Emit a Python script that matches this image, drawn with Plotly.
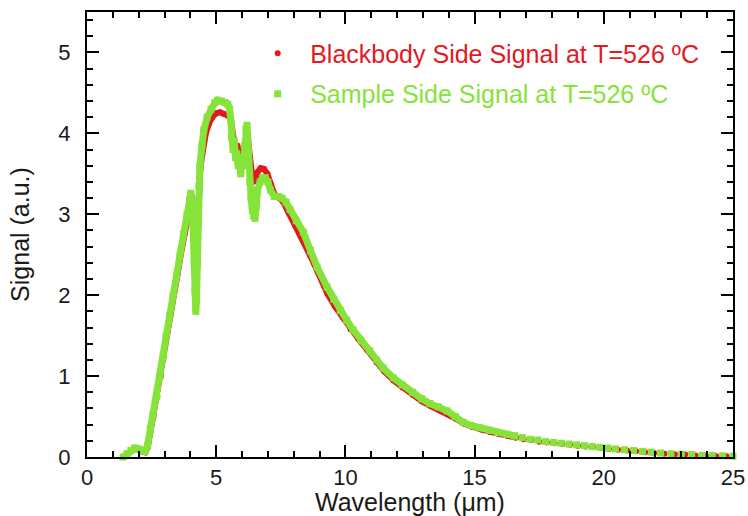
import plotly.graph_objects as go

# Blackbody-side spectrum (wavelength in um, signal in a.u.)
bb_wl = [1.40, 1.55, 1.70, 1.85, 2.00, 2.15, 2.25, 2.35, 2.45, 2.57, 2.72, 2.86, 2.98,
         3.10, 3.23, 3.36, 3.50, 3.63, 3.77, 3.91, 4.00, 4.06, 4.10, 4.14, 4.17, 4.20,
         4.23, 4.26, 4.29, 4.32, 4.36, 4.42, 4.50, 4.60, 4.72, 4.85, 5.00, 5.15, 5.30,
         5.45, 5.55, 5.62, 5.68, 5.75, 5.82, 5.90, 5.97, 6.03, 6.10, 6.18, 6.24, 6.30,
         6.36, 6.42, 6.50, 6.60, 6.72, 6.85, 6.98, 7.10, 7.25, 7.45, 7.60, 7.80, 8.05,
         8.35, 8.65, 8.95, 9.30, 9.60, 9.90, 10.20, 10.50, 10.85, 11.20, 11.50, 11.85,
         12.20, 12.60, 12.95, 13.30, 13.65, 14.00, 14.30, 14.60, 14.90, 15.25, 15.60,
         15.95, 16.30, 16.60,
         16.90, 17.20, 17.50, 17.80, 18.10, 18.40, 18.70, 19.00, 19.30, 19.60, 19.90,
         20.20, 20.55, 20.90, 21.25, 21.60, 21.95, 22.35, 22.75, 23.15, 23.55, 23.95,
         24.35, 24.75]
bb_sig = [0.00, 0.04, 0.07, 0.10, 0.09, 0.06, 0.06, 0.12, 0.30, 0.50, 0.75, 1.00, 1.25,
          1.50, 1.75, 2.00, 2.25, 2.50, 2.75, 3.00, 3.15, 3.22, 3.10, 2.85, 2.55, 2.30,
          2.25, 2.50, 2.85, 3.20, 3.45, 3.65, 3.85, 4.00, 4.12, 4.20, 4.25, 4.26, 4.24,
          4.22, 4.18, 4.05, 3.90, 3.80, 3.85, 3.72, 3.78, 3.68, 3.85, 3.98, 3.90, 3.70,
          3.50, 3.40, 3.42, 3.52, 3.57, 3.56, 3.50, 3.38, 3.25, 3.20, 3.15, 3.02, 2.86,
          2.70, 2.48, 2.27, 2.02, 1.86, 1.72, 1.58, 1.46, 1.32, 1.17, 1.06, 0.95,
          0.86, 0.77, 0.69, 0.63, 0.58, 0.53, 0.47, 0.41, 0.37, 0.34, 0.31,
          0.28, 0.26, 0.24,
          0.22, 0.21, 0.19, 0.18, 0.17, 0.16, 0.15, 0.14, 0.13, 0.12, 0.11,
          0.10, 0.09, 0.08, 0.07, 0.06, 0.05, 0.04, 0.035, 0.03, 0.02, 0.015,
          0.01, 0.01]

# Sample-side spectrum
sm_wl = [1.40, 1.55, 1.70, 1.85, 2.00, 2.15, 2.25, 2.35, 2.45, 2.55, 2.70, 2.83, 2.95,
         3.06, 3.20, 3.33, 3.47, 3.60, 3.73, 3.87, 3.97, 4.02, 4.08, 4.12, 4.15, 4.18,
         4.21, 4.24, 4.27, 4.30, 4.33, 4.37, 4.45, 4.52, 4.65, 4.80, 4.95, 5.05, 5.20,
         5.35, 5.45, 5.52, 5.57, 5.60, 5.65, 5.70, 5.75, 5.80, 5.85, 5.90, 5.95, 6.00,
         6.05, 6.10, 6.15, 6.19, 6.22, 6.25, 6.30, 6.35, 6.40, 6.45, 6.50, 6.55, 6.60,
         6.70, 6.80, 6.90, 7.00, 7.10, 7.25, 7.40, 7.55, 7.70, 7.86, 8.10, 8.37, 8.65,
         8.90, 9.29, 9.55, 9.80, 10.05, 10.30, 10.60, 10.95, 11.20, 11.46, 11.85, 12.20,
         12.60, 12.95, 13.27, 13.60, 13.93, 14.25, 14.55, 14.85, 15.20, 15.55, 15.90,
         16.25, 16.55,
         16.85, 17.15, 17.45, 17.75, 18.05, 18.35, 18.65, 18.95, 19.25, 19.55, 19.85,
         20.15, 20.45, 20.80, 21.15, 21.50, 21.85, 22.20, 22.60, 23.00, 23.40, 23.80,
         24.20, 24.60, 25.00]
sm_sig = [0.00, 0.04, 0.08, 0.11, 0.10, 0.07, 0.07, 0.15, 0.35, 0.52, 0.75, 1.00, 1.25,
          1.50, 1.75, 2.00, 2.25, 2.50, 2.75, 3.00, 3.18, 3.26, 3.10, 2.80, 2.40, 2.05,
          1.80, 1.95, 2.40, 2.90, 3.35, 3.60, 3.85, 4.04, 4.20, 4.30, 4.38, 4.41, 4.40,
          4.38, 4.36, 4.30, 4.15, 3.95, 3.80, 3.90, 3.70, 3.75, 3.60, 3.65, 3.50, 3.70,
          3.60, 3.85, 4.05, 4.10, 3.95, 3.70, 3.40, 3.20, 3.05, 2.98, 2.95, 3.10, 3.30,
          3.40, 3.45, 3.45, 3.40, 3.30, 3.22, 3.22, 3.20, 3.15, 3.06, 2.92, 2.78, 2.55,
          2.35, 2.10, 1.95, 1.81, 1.69, 1.57, 1.44, 1.31, 1.20, 1.10, 0.98, 0.89,
          0.80, 0.72, 0.66, 0.62, 0.57, 0.50, 0.43, 0.39, 0.36, 0.33, 0.30,
          0.28, 0.26,
          0.24, 0.22, 0.21, 0.19, 0.18, 0.17, 0.16, 0.15, 0.14, 0.13, 0.12,
          0.11, 0.10, 0.09, 0.08, 0.07, 0.06, 0.05, 0.04, 0.035, 0.03, 0.02,
          0.02, 0.015, 0.01]

x_ticks = [0, 5, 10, 15, 20, 25]
y_ticks = [0, 1, 2, 3, 4, 5]

RED = "#e2191e"
GREEN = "#86e33a"
FONT = "Liberation Sans, Arial, sans-serif"
TEXT = "#1a1a1a"
DENSE_LIMIT = 16.7  # beyond this the samples are spaced far enough to show apart


def add_series(fig, wl, sig, color, symbol, msize, lwidth, name):
    dense = [i for i, w in enumerate(wl) if w < DENSE_LIMIT]
    sparse = [i for i, w in enumerate(wl) if w >= DENSE_LIMIT - 0.4]
    fig.add_trace(go.Scatter(
        x=[wl[i] for i in dense], y=[sig[i] for i in dense],
        mode="lines+markers",
        line=dict(color=color, width=lwidth),
        marker=dict(color=color, symbol=symbol, size=msize),
        showlegend=False, legendgroup=name, cliponaxis=False,
        hoverinfo="x+y",
    ))
    fig.add_trace(go.Scatter(
        x=[wl[i] for i in sparse], y=[sig[i] for i in sparse],
        mode="markers",
        marker=dict(color=color, symbol=symbol, size=msize),
        name=f"\u2002<span style='color:{color}'>{name}</span>",
        legendgroup=name, cliponaxis=False,
        hoverinfo="x+y",
    ))


fig = go.Figure()
add_series(fig, bb_wl, bb_sig, RED, "circle", 6, 6,
           "Blackbody Side Signal at T=526 ºC")
add_series(fig, sm_wl, sm_sig, GREEN, "square", 7, 7,
           "Sample Side Signal at T=526 ºC")

axis_common = dict(
    showline=True, linecolor="black", linewidth=2, mirror="ticks",
    ticks="inside", ticklen=12, tickwidth=2, tickcolor="black",
    showgrid=False, zeroline=False, automargin=False,
    tickfont=dict(family=FONT, size=22, color=TEXT),
)

fig.update_layout(
    width=748, height=516,
    margin=dict(l=87, r=15, t=12, b=59),
    paper_bgcolor="white", plot_bgcolor="white",
    font=dict(family=FONT, size=22, color=TEXT),
    legend=dict(
        x=0.2642, y=0.9585, xanchor="left", yanchor="top",
        bgcolor="rgba(0,0,0,0)", borderwidth=0,
        font=dict(family=FONT, size=25),
        tracegroupgap=5,
    ),
    xaxis=dict(
        range=[0, 25], tickvals=x_ticks, ticktext=[str(v) for v in x_ticks],
        minor=dict(dtick=1, ticks="inside", ticklen=6, tickwidth=2, tickcolor="black"),
        title=dict(text="Wavelength (μm)", standoff=16,
                   font=dict(family=FONT, size=25, color=TEXT)),
        ticklabelstandoff=0,
        **axis_common,
    ),
    yaxis=dict(
        range=[0, 5.5], tickvals=y_ticks, ticktext=[str(v) for v in y_ticks],
        minor=dict(dtick=0.2, ticks="inside", ticklen=6, tickwidth=2, tickcolor="black"),
        title=dict(text="Signal (a.u.)", standoff=22,
                   font=dict(family=FONT, size=25, color=TEXT)),
        ticklabelstandoff=10,
        **axis_common,
    ),
)

fig.write_html("out.html")
